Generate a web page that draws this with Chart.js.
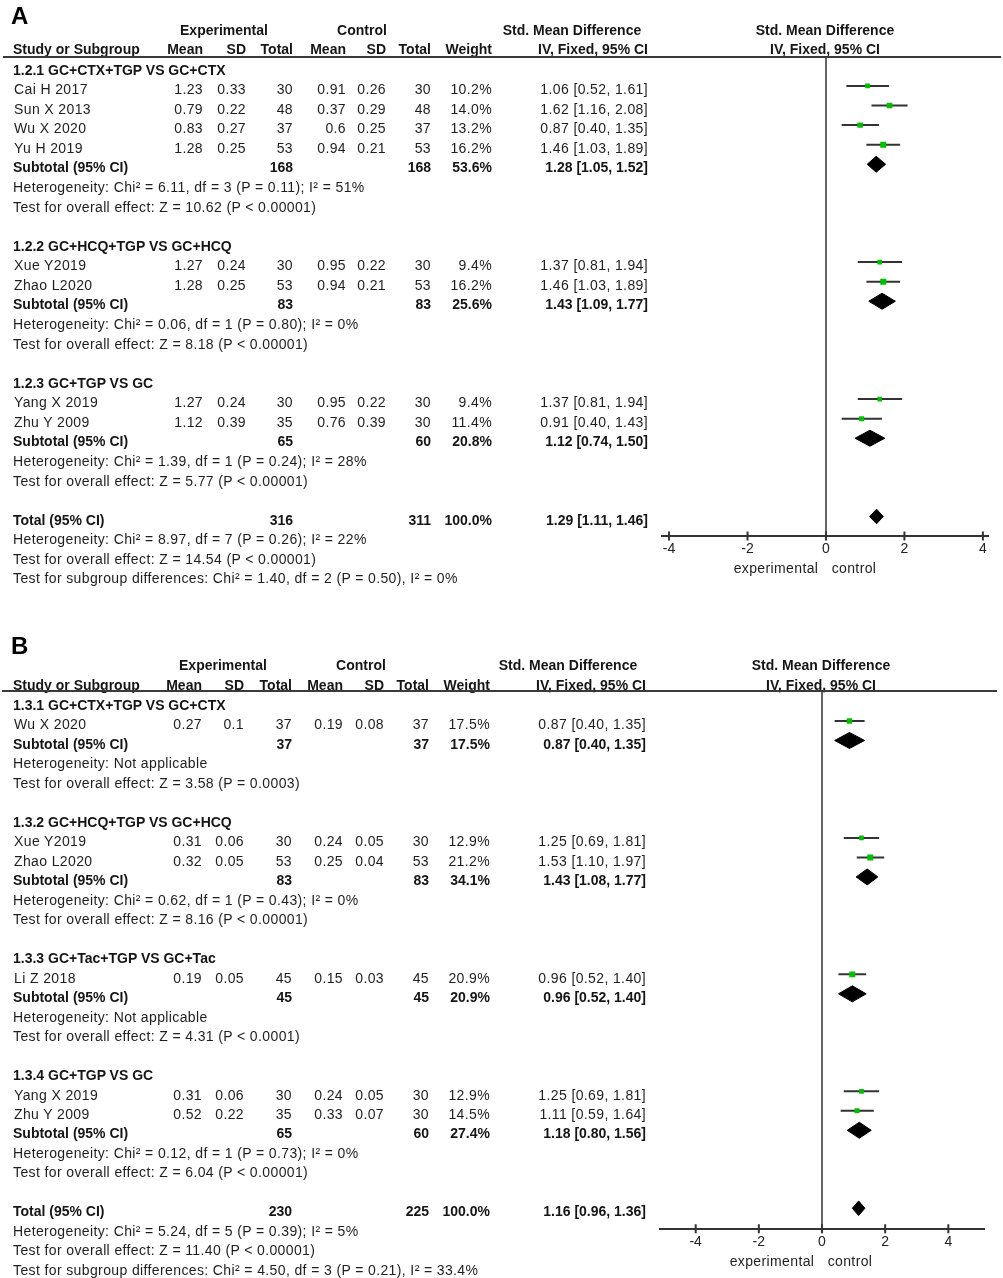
<!DOCTYPE html>
<html>
<head>
<meta charset="utf-8">
<script src="https://cdn.jsdelivr.net/npm/chart.js@4/dist/chart.umd.min.js"></script>
<style>
  body { margin: 0; background: #fff; }
  .panel { position: relative; width: 1003px; overflow: hidden; }
  .panel canvas { position: absolute; left: 0; top: 0; }
  .t { position: absolute; font: 14px 'Liberation Sans', Arial, sans-serif; line-height: 16px;
       white-space: nowrap; color: #1e1e1e; letter-spacing: 0.38px; }
  .b { font-weight: bold; letter-spacing: 0; color: #151515; }
  .r { transform: translateX(-100%); }
  .c { transform: translateX(-50%); }
  .rule { position: absolute; height: 2px; background: #3a3a3a; }
  .letter { position: absolute; font: bold 24px 'Liberation Sans', Arial, sans-serif; line-height: 28px; color: #000; }
</style>
</head>
<body>
<div id="panelA" class="panel" style="height:620px"><canvas id="chartA" width="1003" height="620"></canvas></div>
<div id="panelB" class="panel" style="height:658px"><canvas id="chartB" width="1003" height="658"></canvas></div>
<script>
(function () {
  // ---- panel A data ----
  const groupTitlesA = ['1.2.1 GC+CTX+TGP VS GC+CTX', '1.2.2 GC+HCQ+TGP VS GC+HCQ', '1.2.3 GC+TGP VS GC'];
  const studyGroupA = [0, 0, 0, 0, 1, 1, 2, 2];
  const studiesA = ['Cai H 2017', 'Sun X 2013', 'Wu X 2020', 'Yu H 2019', 'Xue Y2019', 'Zhao L2020', 'Yang X 2019', 'Zhu Y 2009'];
  const expMeanA = [1.23, 0.79, 0.83, 1.28, 1.27, 1.28, 1.27, 1.12];
  const expSdA = [0.33, 0.22, 0.27, 0.25, 0.24, 0.25, 0.24, 0.39];
  const expTotalA = [30, 48, 37, 53, 30, 53, 30, 35];
  const ctlMeanA = [0.91, 0.37, 0.6, 0.94, 0.95, 0.94, 0.95, 0.76];
  const ctlSdA = [0.26, 0.29, 0.25, 0.21, 0.22, 0.21, 0.22, 0.39];
  const ctlTotalA = [30, 48, 37, 53, 30, 53, 30, 30];
  const weightA = [10.2, 14.0, 13.2, 16.2, 9.4, 16.2, 9.4, 11.4];
  const smdA = [1.06, 1.62, 0.87, 1.46, 1.37, 1.46, 1.37, 0.91];
  const lowA = [0.52, 1.16, 0.40, 1.03, 0.81, 1.03, 0.81, 0.40];
  const highA = [1.61, 2.08, 1.35, 1.89, 1.94, 1.89, 1.94, 1.43];
  const subExpTotalA = [168, 83, 65];
  const subCtlTotalA = [168, 83, 60];
  const subWeightA = [53.6, 25.6, 20.8];
  const subSmdA = [1.28, 1.43, 1.12];
  const subLowA = [1.05, 1.09, 0.74];
  const subHighA = [1.52, 1.77, 1.50];
  const subHetA = [
    'Heterogeneity: Chi² = 6.11, df = 3 (P = 0.11); I² = 51%',
    'Heterogeneity: Chi² = 0.06, df = 1 (P = 0.80); I² = 0%',
    'Heterogeneity: Chi² = 1.39, df = 1 (P = 0.24); I² = 28%'
  ];
  const subTestA = [
    'Test for overall effect: Z = 10.62 (P < 0.00001)',
    'Test for overall effect: Z = 8.18 (P < 0.00001)',
    'Test for overall effect: Z = 5.77 (P < 0.00001)'
  ];
  const totalCountsA = [316, 311];
  const totalEffectA = [1.29, 1.11, 1.46];
  const totalNotesA = [
    'Heterogeneity: Chi² = 8.97, df = 7 (P = 0.26); I² = 22%',
    'Test for overall effect: Z = 14.54 (P < 0.00001)',
    'Test for subgroup differences: Chi² = 1.40, df = 2 (P = 0.50), I² = 0%'
  ];
  const tickValuesA = [-4, -2, 0, 2, 4];

  // ---- panel B data ----
  const groupTitlesB = ['1.3.1 GC+CTX+TGP VS GC+CTX', '1.3.2 GC+HCQ+TGP VS GC+HCQ', '1.3.3 GC+Tac+TGP VS GC+Tac', '1.3.4 GC+TGP VS GC'];
  const studyGroupB = [0, 1, 1, 2, 3, 3];
  const studiesB = ['Wu X 2020', 'Xue Y2019', 'Zhao L2020', 'Li Z 2018', 'Yang X 2019', 'Zhu Y 2009'];
  const expMeanB = [0.27, 0.31, 0.32, 0.19, 0.31, 0.52];
  const expSdB = [0.1, 0.06, 0.05, 0.05, 0.06, 0.22];
  const expTotalB = [37, 30, 53, 45, 30, 35];
  const ctlMeanB = [0.19, 0.24, 0.25, 0.15, 0.24, 0.33];
  const ctlSdB = [0.08, 0.05, 0.04, 0.03, 0.05, 0.07];
  const ctlTotalB = [37, 30, 53, 45, 30, 30];
  const weightB = [17.5, 12.9, 21.2, 20.9, 12.9, 14.5];
  const smdB = [0.87, 1.25, 1.53, 0.96, 1.25, 1.11];
  const lowB = [0.40, 0.69, 1.10, 0.52, 0.69, 0.59];
  const highB = [1.35, 1.81, 1.97, 1.40, 1.81, 1.64];
  const subExpTotalB = [37, 83, 45, 65];
  const subCtlTotalB = [37, 83, 45, 60];
  const subWeightB = [17.5, 34.1, 20.9, 27.4];
  const subSmdB = [0.87, 1.43, 0.96, 1.18];
  const subLowB = [0.40, 1.08, 0.52, 0.80];
  const subHighB = [1.35, 1.77, 1.40, 1.56];
  const subHetB = [
    'Heterogeneity: Not applicable',
    'Heterogeneity: Chi² = 0.62, df = 1 (P = 0.43); I² = 0%',
    'Heterogeneity: Not applicable',
    'Heterogeneity: Chi² = 0.12, df = 1 (P = 0.73); I² = 0%'
  ];
  const subTestB = [
    'Test for overall effect: Z = 3.58 (P = 0.0003)',
    'Test for overall effect: Z = 8.16 (P < 0.00001)',
    'Test for overall effect: Z = 4.31 (P < 0.0001)',
    'Test for overall effect: Z = 6.04 (P < 0.00001)'
  ];
  const totalCountsB = [230, 225];
  const totalEffectB = [1.16, 0.96, 1.36];
  const totalNotesB = [
    'Heterogeneity: Chi² = 5.24, df = 5 (P = 0.39); I² = 5%',
    'Test for overall effect: Z = 11.40 (P < 0.00001)',
    'Test for subgroup differences: Chi² = 4.50, df = 3 (P = 0.21), I² = 33.4%'
  ];
  const tickValuesB = [-4, -2, 0, 2, 4];

  // ---- layout / style (pixels) ----
  const GREEN = '#00c000';
  const LINE = '#333333';
  const FONT = "'Liberation Sans', Arial, sans-serif";

  const layoutA = {
    panelId: 'panelA', canvasId: 'chartA', letter: 'A', letterTop: 2, height: 620,
    row0Px: 66.4, pitch: 19.57, ruleRow: -0.48, axisRow: 24.0, ruleLeft: 3, ruleWidth: 998,
    padLeft: 662, padRight: 15, xMin: -4.18, xMax: 4.13,
    cols: [203, 246, 293, 346, 386, 431, 492, 648],
    expCenter: 224, ctlCenter: 362, ciCenter: 572, plotCenter: 825,
    expLabelX: 776, ctlLabelX: 854, boxScale: 1.5
  };
  const layoutB = {
    panelId: 'panelB', canvasId: 'chartB', letter: 'B', letterTop: 12, height: 658,
    row0Px: 81.5, pitch: 19.49, ruleRow: -0.54, axisRow: 27.05, ruleLeft: 2, ruleWidth: 995,
    padLeft: 660, padRight: 19, xMin: -5.13, xMax: 5.13,
    cols: [202, 244, 292, 343, 384, 429, 490, 646],
    expCenter: 223, ctlCenter: 361, ciCenter: 568, plotCenter: 821,
    expLabelX: 772, ctlLabelX: 850, boxScale: 1.3
  };

  function el(id) {
    return document.getElementById(id);
  }

  function fmt2(v) {
    return v.toFixed(2);
  }

  function ciText(m, lo, hi) {
    return fmt2(m) + ' [' + fmt2(lo) + ', ' + fmt2(hi) + ']';
  }

  function addText(panel, txt, x, top, align, bold) {
    const d = document.createElement('div');
    d.className = 't' + (bold ? ' b' : '') + (align === 'right' ? ' r' : align === 'center' ? ' c' : '');
    d.textContent = txt;
    d.style.left = x + 'px';
    d.style.top = top.toFixed(1) + 'px';
    panel.appendChild(d);
  }

  function buildRows(d) {
    const rows = [];
    let r = 0;
    d.groupTitles.forEach(function (title, g) {
      rows.push({ row: r++, kind: 'group', text: title });
      d.studyGroup.forEach(function (sg, i) {
        if (sg === g) {
          rows.push({ row: r++, kind: 'study', i: i });
        }
      });
      rows.push({ row: r++, kind: 'subtotal', g: g });
      rows.push({ row: r++, kind: 'note', text: d.subHet[g] });
      rows.push({ row: r++, kind: 'note', text: d.subTest[g] });
      r++;
    });
    rows.push({ row: r++, kind: 'total' });
    d.totalNotes.forEach(function (t) {
      rows.push({ row: r++, kind: 'note', text: t });
    });
    return rows;
  }

  function diamond(lo, est, hi, row, h) {
    return [
      { data: [{ x: lo, y: row }, { x: est, y: row - h }, { x: hi, y: row }], fill: '+1',
        backgroundColor: '#000', borderColor: '#000', borderWidth: 1, pointRadius: 0 },
      { data: [{ x: lo, y: row }, { x: est, y: row + h }, { x: hi, y: row }], fill: false,
        backgroundColor: '#000', borderColor: '#000', borderWidth: 1, pointRadius: 0 }
    ];
  }

  function buildPanel(d, lay) {
    const panel = el(lay.panelId);
    const rows = buildRows(d);
    const studyRows = rows.filter(function (x) { return x.kind === 'study'; });
    const subRows = rows.filter(function (x) { return x.kind === 'subtotal'; });
    const totalRow = rows.find(function (x) { return x.kind === 'total'; }).row;
    const yMin = -lay.row0Px / lay.pitch;
    const yMax = yMin + lay.height / lay.pitch;

    const datasets = [];
    datasets.push({
      data: studyRows.map(function (s) { return { x: d.smd[s.i], y: s.row }; }),
      showLine: false,
      pointStyle: 'rect',
      pointRadius: studyRows.map(function (s) { return lay.boxScale * Math.sqrt(d.weight[s.i]) * Math.SQRT1_2; }),
      pointBackgroundColor: GREEN,
      pointBorderWidth: 0
    });
    studyRows.forEach(function (s) {
      datasets.push({
        data: [{ x: d.low[s.i], y: s.row }, { x: d.high[s.i], y: s.row }],
        borderColor: LINE, borderWidth: 2, pointRadius: 0, fill: false
      });
    });
    subRows.forEach(function (s) {
      diamond(d.subLow[s.g], d.subSmd[s.g], d.subHigh[s.g], s.row, 8 / lay.pitch).forEach(function (ds) { datasets.push(ds); });
    });
    diamond(d.totalEffect[1], d.totalEffect[0], d.totalEffect[2], totalRow, 7.3 / lay.pitch).forEach(function (ds) { datasets.push(ds); });
    datasets.push({
      data: d.ticks.map(function (v) { return { x: v, y: lay.axisRow }; }),
      showLine: false,
      pointStyle: 'line',
      pointRotation: 90,
      pointRadius: 4.5,
      pointBorderColor: LINE,
      pointBorderWidth: 2
    });
    datasets.push({
      data: [{ x: 0, y: lay.ruleRow }, { x: 0, y: lay.axisRow }],
      borderColor: '#666', borderWidth: 2, pointRadius: 0, fill: false
    });

    const chart = new Chart(el(lay.canvasId), {
      type: 'line',
      data: { datasets: datasets },
      options: {
        responsive: false,
        animation: false,
        events: [],
        layout: { padding: { left: lay.padLeft, right: lay.padRight, top: 0, bottom: 0 } },
        plugins: { legend: { display: false }, tooltip: { enabled: false } },
        scales: {
          x: {
            type: 'linear',
            min: lay.xMin,
            max: lay.xMax,
            position: { y: lay.axisRow },
            grid: { display: false, drawTicks: false },
            border: { display: true, color: LINE, width: 2 },
            ticks: {
              padding: 5,
              color: '#222',
              font: { family: FONT, size: 14 },
              callback: function (v) { return String(v); }
            },
            afterBuildTicks: function (scale) {
              scale.ticks = d.ticks.map(function (v) { return { value: v }; });
            }
          },
          y: { type: 'linear', display: false, reverse: true, min: yMin, max: yMax }
        }
      }
    });

    // fit the row scale to the real plot area so rows land on the wanted pixels
    const area = chart.chartArea;
    chart.options.scales.y.min = (area.top - lay.row0Px) / lay.pitch;
    chart.options.scales.y.max = (area.bottom - lay.row0Px) / lay.pitch;
    chart.update();

    const yPix = function (r) { return chart.scales.y.getPixelForValue(r); };
    const top = function (r) { return yPix(r) + 3 - 7.84; };
    const c = lay.cols;

    // panel letter
    const letter = document.createElement('div');
    letter.className = 'letter';
    letter.textContent = lay.letter;
    letter.style.left = '11px';
    letter.style.top = lay.letterTop + 'px';
    panel.appendChild(letter);

    // headers
    addText(panel, 'Experimental', lay.expCenter, top(-2.02), 'center', true);
    addText(panel, 'Control', lay.ctlCenter, top(-2.02), 'center', true);
    addText(panel, 'Std. Mean Difference', lay.ciCenter, top(-2.02), 'center', true);
    addText(panel, 'Std. Mean Difference', lay.plotCenter, top(-2.02), 'center', true);
    addText(panel, 'Study or Subgroup', 13, top(-1.03), 'left', true);
    ['Mean', 'SD', 'Total', 'Mean', 'SD', 'Total', 'Weight', 'IV, Fixed, 95% CI'].forEach(function (h, k) {
      addText(panel, h, c[k], top(-1.03), 'right', true);
    });
    addText(panel, 'IV, Fixed, 95% CI', lay.plotCenter, top(-1.03), 'center', true);

    const rule = document.createElement('div');
    rule.className = 'rule';
    rule.style.left = lay.ruleLeft + 'px';
    rule.style.width = lay.ruleWidth + 'px';
    rule.style.top = (yPix(lay.ruleRow) - 1).toFixed(1) + 'px';
    panel.appendChild(rule);

    rows.forEach(function (rw) {
      const t = top(rw.row);
      if (rw.kind === 'group') {
        addText(panel, rw.text, 13, t, 'left', true);
      } else if (rw.kind === 'note') {
        addText(panel, rw.text, 13, t, 'left', false);
      } else if (rw.kind === 'study') {
        const i = rw.i;
        addText(panel, d.studies[i], 14, t, 'left', false);
        [d.expMean[i], d.expSd[i], d.expTotal[i], d.ctlMean[i], d.ctlSd[i], d.ctlTotal[i]].forEach(function (v, k) {
          addText(panel, String(v), c[k], t, 'right', false);
        });
        addText(panel, d.weight[i].toFixed(1) + '%', c[6], t, 'right', false);
        addText(panel, ciText(d.smd[i], d.low[i], d.high[i]), c[7], t, 'right', false);
      } else if (rw.kind === 'subtotal') {
        const g = rw.g;
        addText(panel, 'Subtotal (95% CI)', 13, t, 'left', true);
        addText(panel, String(d.subExpTotal[g]), c[2], t, 'right', true);
        addText(panel, String(d.subCtlTotal[g]), c[5], t, 'right', true);
        addText(panel, d.subWeight[g].toFixed(1) + '%', c[6], t, 'right', true);
        addText(panel, ciText(d.subSmd[g], d.subLow[g], d.subHigh[g]), c[7], t, 'right', true);
      } else if (rw.kind === 'total') {
        addText(panel, 'Total (95% CI)', 13, t, 'left', true);
        addText(panel, String(d.totalCounts[0]), c[2], t, 'right', true);
        addText(panel, String(d.totalCounts[1]), c[5], t, 'right', true);
        addText(panel, '100.0%', c[6], t, 'right', true);
        addText(panel, ciText(d.totalEffect[0], d.totalEffect[1], d.totalEffect[2]), c[7], t, 'right', true);
      }
    });

    const axisPx = yPix(lay.axisRow);
    addText(panel, 'experimental', lay.expLabelX, axisPx + 32 - 7.84, 'center', false);
    addText(panel, 'control', lay.ctlLabelX, axisPx + 32 - 7.84, 'center', false);
  }

  buildPanel({
    groupTitles: groupTitlesA, studyGroup: studyGroupA, studies: studiesA,
    expMean: expMeanA, expSd: expSdA, expTotal: expTotalA,
    ctlMean: ctlMeanA, ctlSd: ctlSdA, ctlTotal: ctlTotalA,
    weight: weightA, smd: smdA, low: lowA, high: highA,
    subExpTotal: subExpTotalA, subCtlTotal: subCtlTotalA, subWeight: subWeightA,
    subSmd: subSmdA, subLow: subLowA, subHigh: subHighA, subHet: subHetA, subTest: subTestA,
    totalCounts: totalCountsA, totalEffect: totalEffectA, totalNotes: totalNotesA, ticks: tickValuesA
  }, layoutA);

  buildPanel({
    groupTitles: groupTitlesB, studyGroup: studyGroupB, studies: studiesB,
    expMean: expMeanB, expSd: expSdB, expTotal: expTotalB,
    ctlMean: ctlMeanB, ctlSd: ctlSdB, ctlTotal: ctlTotalB,
    weight: weightB, smd: smdB, low: lowB, high: highB,
    subExpTotal: subExpTotalB, subCtlTotal: subCtlTotalB, subWeight: subWeightB,
    subSmd: subSmdB, subLow: subLowB, subHigh: subHighB, subHet: subHetB, subTest: subTestB,
    totalCounts: totalCountsB, totalEffect: totalEffectB, totalNotes: totalNotesB, ticks: tickValuesB
  }, layoutB);
})();
</script>
</body>
</html>
